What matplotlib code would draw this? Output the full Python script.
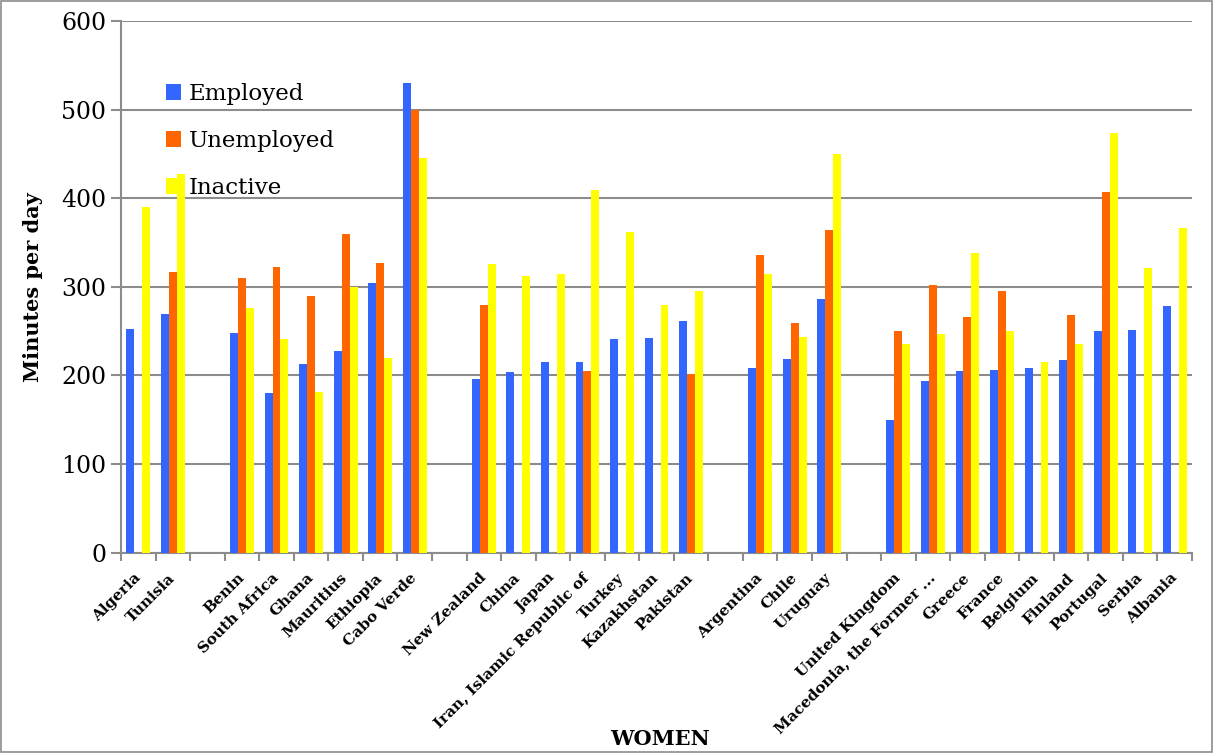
import numpy as np
import matplotlib
matplotlib.use('Agg')
import matplotlib.pyplot as plt
from matplotlib.patches import Rectangle
from matplotlib.transforms import ScaledTranslation

nan = np.nan

# Countries (empty strings are the gaps between regional groups)
countries = ['Algeria', 'Tunisia', '',
             'Benin', 'South Africa', 'Ghana', 'Mauritius', 'Ethiopia', 'Cabo Verde', '',
             'New Zealand', 'China', 'Japan', 'Iran, Islamic Republic of', 'Turkey',
             'Kazakhstan', 'Pakistan', '',
             'Argentina', 'Chile', 'Uruguay', '',
             'United Kingdom', 'Macedonia, the Former ...', 'Greece', 'France', 'Belgium',
             'Finland', 'Portugal', 'Serbia', 'Albania']

employed = [252, 269, nan,
            248, 180, 213, 228, 304, 530, nan,
            196, 204, 215, 215, 241, 242, 262, nan,
            209, 219, 286, nan,
            150, 194, 205, 206, 209, 218, 250, 251, 278]

unemployed = [nan, 317, nan,
              310, 323, 290, 360, 327, 500, nan,
              279, nan, nan, 205, nan, nan, 202, nan,
              336, 259, 364, nan,
              250, 302, 266, 295, nan, 268, 407, nan, nan]

inactive = [390, 427, nan,
            276, 241, 181, 300, 220, 446, nan,
            326, 312, 315, 409, 362, 280, 295, nan,
            314, 243, 450, nan,
            236, 247, 338, 250, 215, 236, 474, 321, 367]

series_names = ['Employed', 'Unemployed', 'Inactive']
series_colors = ['#3366FF', '#FF6600', '#FFFF00']

plt.rcParams['font.family'] = ['DejaVu Serif']

fig = plt.figure(figsize=(12.13, 7.53), dpi=100)
ax = fig.add_axes([0.0998, 0.266, 0.8829, 0.706])

x = np.arange(len(countries))
w = 0.23
for k, (vals, name, col) in enumerate(zip([employed, unemployed, inactive], series_names, series_colors)):
    ax.bar(x + (k - 1) * w, vals, width=w, color=col, label=name, zorder=3)

ax.set_xlim(-0.5, len(countries) - 0.5)
ax.set_ylim(0, 600)
ax.set_yticks(range(0, 601, 100))
ax.tick_params(axis='y', labelsize=17, length=7, color='#8c8c8c', width=1.5)
ax.grid(axis='y', color='#8c8c8c', linewidth=1.5, zorder=0)

ax.set_xticks(x)
ax.set_xticklabels(countries, rotation=45, ha='right', rotation_mode='anchor',
                   fontsize=11, fontweight='bold')
ax.set_xticks(np.arange(-0.5, len(countries), 1), minor=True)
ax.tick_params(axis='x', which='major', length=0, pad=8)
ax.tick_params(axis='x', which='minor', length=6, color='#8c8c8c', width=1.5)
shift = ScaledTranslation(-0.05, -0.07, fig.dpi_scale_trans)
for lbl in ax.get_xticklabels():
    lbl.set_transform(lbl.get_transform() + shift)

for s in ['top', 'right']:
    ax.spines[s].set_visible(False)
for s in ['left', 'bottom']:
    ax.spines[s].set_color('#8c8c8c')
    ax.spines[s].set_linewidth(1.5)

ax.set_ylabel('Minutes per day', fontsize=15, fontweight='bold', labelpad=13)
fig.text(0.544, 0.005, 'WOMEN', ha='center', va='bottom', fontsize=15, fontweight='bold')

ax.legend(loc='upper left', bbox_to_anchor=(0.042, 0.884), frameon=False, fontsize=16.5,
          handlelength=0.65, handleheight=0.7, handletextpad=0.35, labelspacing=1.1,
          borderpad=0, borderaxespad=0)

fig.patches.append(Rectangle((0.001, 0.001), 0.998, 0.998, transform=fig.transFigure,
                             fill=False, edgecolor='#8c8c8c', linewidth=1.2))

fig.savefig('out.png', dpi=100)
